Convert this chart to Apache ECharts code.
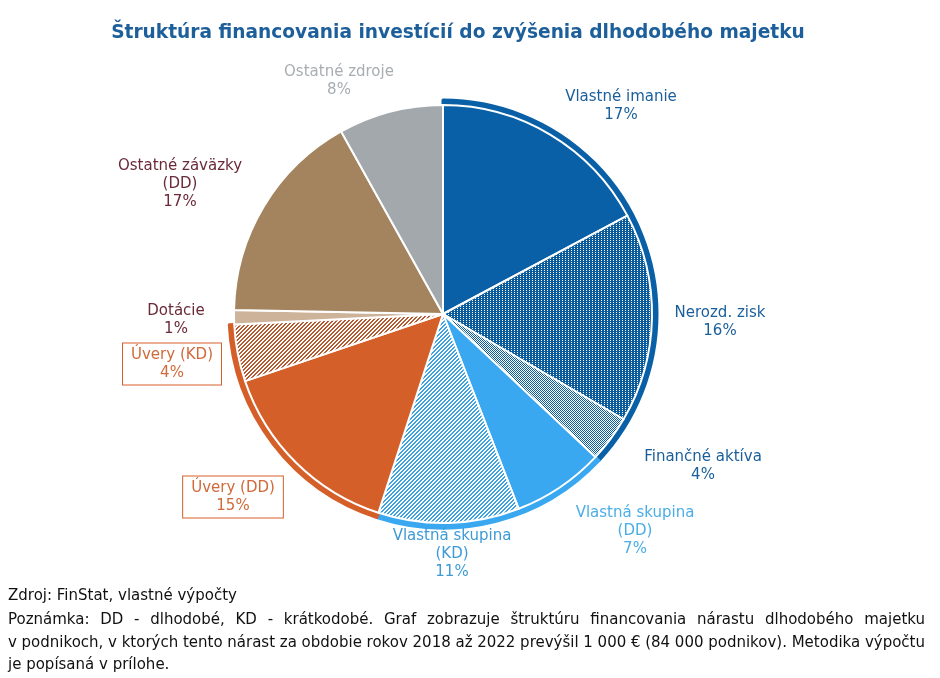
<!DOCTYPE html>
<html><head><meta charset="utf-8">
<script src="https://cdn.jsdelivr.net/npm/echarts@6/dist/echarts.min.js"></script>
<style>html,body{margin:0;padding:0;background:#fff}#c{width:940px;height:678px}</style>
</head><body><div id="c"></div>
<script>
// ---- data ----
const categories = ['Vlastné imanie','Nerozd. zisk','Finančné aktíva','Vlastná skupina\n(DD)','Vlastná skupina\n(KD)','Úvery (DD)','Úvery (KD)','Dotácie','Ostatné záväzky\n(DD)','Ostatné zdroje'];
const shares = [17.2, 16.2, 3.6, 7.1, 10.9, 14.8, 4.4, 1.1, 16.6, 8.1];
const groupOf = [0, 0, 0, 1, 1, 2, 2, -1, -1, -1];
const titleText = 'Štruktúra financovania investícií do zvýšenia dlhodobého majetku';
const sourceText = 'Zdroj: FinStat, vlastné výpočty';
const noteLines = [
  'Poznámka: DD - dlhodobé, KD - krátkodobé. Graf zobrazuje štruktúru financovania nárastu dlhodobého majetku',
  'v podnikoch, v ktorých tento nárast za obdobie rokov 2018 až 2022 prevýšil 1 000 € (84 000 podnikov). Metodika výpočtu',
  'je popísaná v prílohe.'
];

// ---- styles ----
const DB = '#0a60a6', LB = '#3aa8f0', OR = '#d55f28';
const groupColors = [DB, LB, OR];
function pattern(w, h, fn) {
  const c = document.createElement('canvas'); c.width = w; c.height = h;
  const ctx = c.getContext('2d');
  for (let x = 0; x < w; x++) for (let y = 0; y < h; y++) { ctx.fillStyle = fn(x, y); ctx.fillRect(x, y, 1, 1); }
  return { image: c, repeat: 'repeat' };
}
const pNZ = pattern(3, 2, (x, y) => (x === 1 && y === 0) ? '#ffffff' : '#0b5c9c');
const pFA = pattern(2, 2, (x, y) => ((x + y) % 2 === 0) ? '#0b5c9c' : '#ffffff');
const pVSKD = pattern(4, 4, (x, y) => ((x + y) % 4 < 2) ? '#3ca2e2' : '#ffffff');
const pUKD = pattern(4, 4, (x, y) => ((x + y) % 4 < 2) ? '#b65a30' : '#ffffff');
const sliceColors = [DB, pNZ, pFA, LB, pVSKD, OR, pUKD, '#cdb39a', '#a3845f', '#a2a8ac'];
const labelColors = ['#1a5f9a', '#1a5f9a', '#1a5f9a', '#4aaee6', '#3e9ad6', '#d06a3a', '#d06a3a', '#6a2a38', '#6a2a38', '#a8adb1'];
const labelPos = [[621,106],[720,322],[703,466],[635,531],[452,554],[233,497],[172,364],[176,320],[180,184],[339,81]];
const boxed = [false,false,false,false,false,true,true,false,false,false];
const FONT = '"DejaVu Sans", Verdana, sans-serif';

// group ring data
const groupVals = [0, 0, 0, 0];
shares.forEach((v, i) => { const g = groupOf[i]; groupVals[g < 0 ? 3 : g] += v; });

const chart = echarts.init(document.getElementById('c'));

// footer elements (justified)
const mctx = document.createElement('canvas').getContext('2d');
const footFont = '15px ' + FONT;
mctx.font = footFont;
const graphics = [{
  type: 'text', x: 458, y: 33, style: { text: titleText, font: 'bold 18.6px ' + FONT, fill: '#1d5f9b', align: 'center', verticalAlign: 'middle' }
}, {
  type: 'text', x: 8, y: 596, style: { text: sourceText, font: footFont, fill: '#111', verticalAlign: 'middle' }
}];
const lineY = [620, 643, 665];
noteLines.forEach((ln, li) => {
  if (li === noteLines.length - 1) {
    graphics.push({ type: 'text', x: 8, y: lineY[li], style: { text: ln, font: footFont, fill: '#111', verticalAlign: 'middle' } });
    return;
  }
  const words = ln.split(' ');
  const widths = words.map(w => mctx.measureText(w).width);
  const total = widths.reduce((a, b) => a + b, 0);
  const gap = Math.max(2, (925 - 8 - total) / (words.length - 1));
  let x = 8;
  words.forEach((w, i) => {
    graphics.push({ type: 'text', x: x, y: lineY[li], style: { text: w, font: footFont, fill: '#111', verticalAlign: 'middle' } });
    x += widths[i] + gap;
  });
});

chart.setOption({
  animation: false,
  backgroundColor: '#fff',
  graphic: graphics,
  series: [{
    type: 'pie', silent: true, center: [443, 314], radius: [0, 214], startAngle: 90, clockwise: true,
    label: { show: false }, labelLine: { show: false },
    data: groupVals.map((v, i) => ({ value: v, itemStyle: i < 3
      ? { color: groupColors[i], borderColor: groupColors[i], borderWidth: 3 }
      : { color: 'rgba(0,0,0,0)', borderWidth: 0 } }))
  }, {
    type: 'pie', center: [443, 314], radius: [0, 209], startAngle: 90, clockwise: true,
    itemStyle: { borderColor: '#fff', borderWidth: 2 },
    labelLine: { show: false },
    label: {
      show: true, position: 'outside',
      fontFamily: FONT, fontSize: 15, lineHeight: 18, align: 'center',
      formatter: p => p.name + '\n' + Math.round(p.value) + '%'
    },
    labelLayout: p => ({ x: labelPos[p.dataIndex][0], y: labelPos[p.dataIndex][1], align: 'center', verticalAlign: 'middle' }),
    data: categories.map((c, i) => ({
      name: c, value: shares[i],
      itemStyle: { color: sliceColors[i] },
      label: boxed[i]
        ? { color: labelColors[i], borderColor: OR, borderWidth: 1, padding: [3, 8, 2, 8], backgroundColor: '#fff' }
        : { color: labelColors[i] }
    }))
  }]
});
</script></body></html>
